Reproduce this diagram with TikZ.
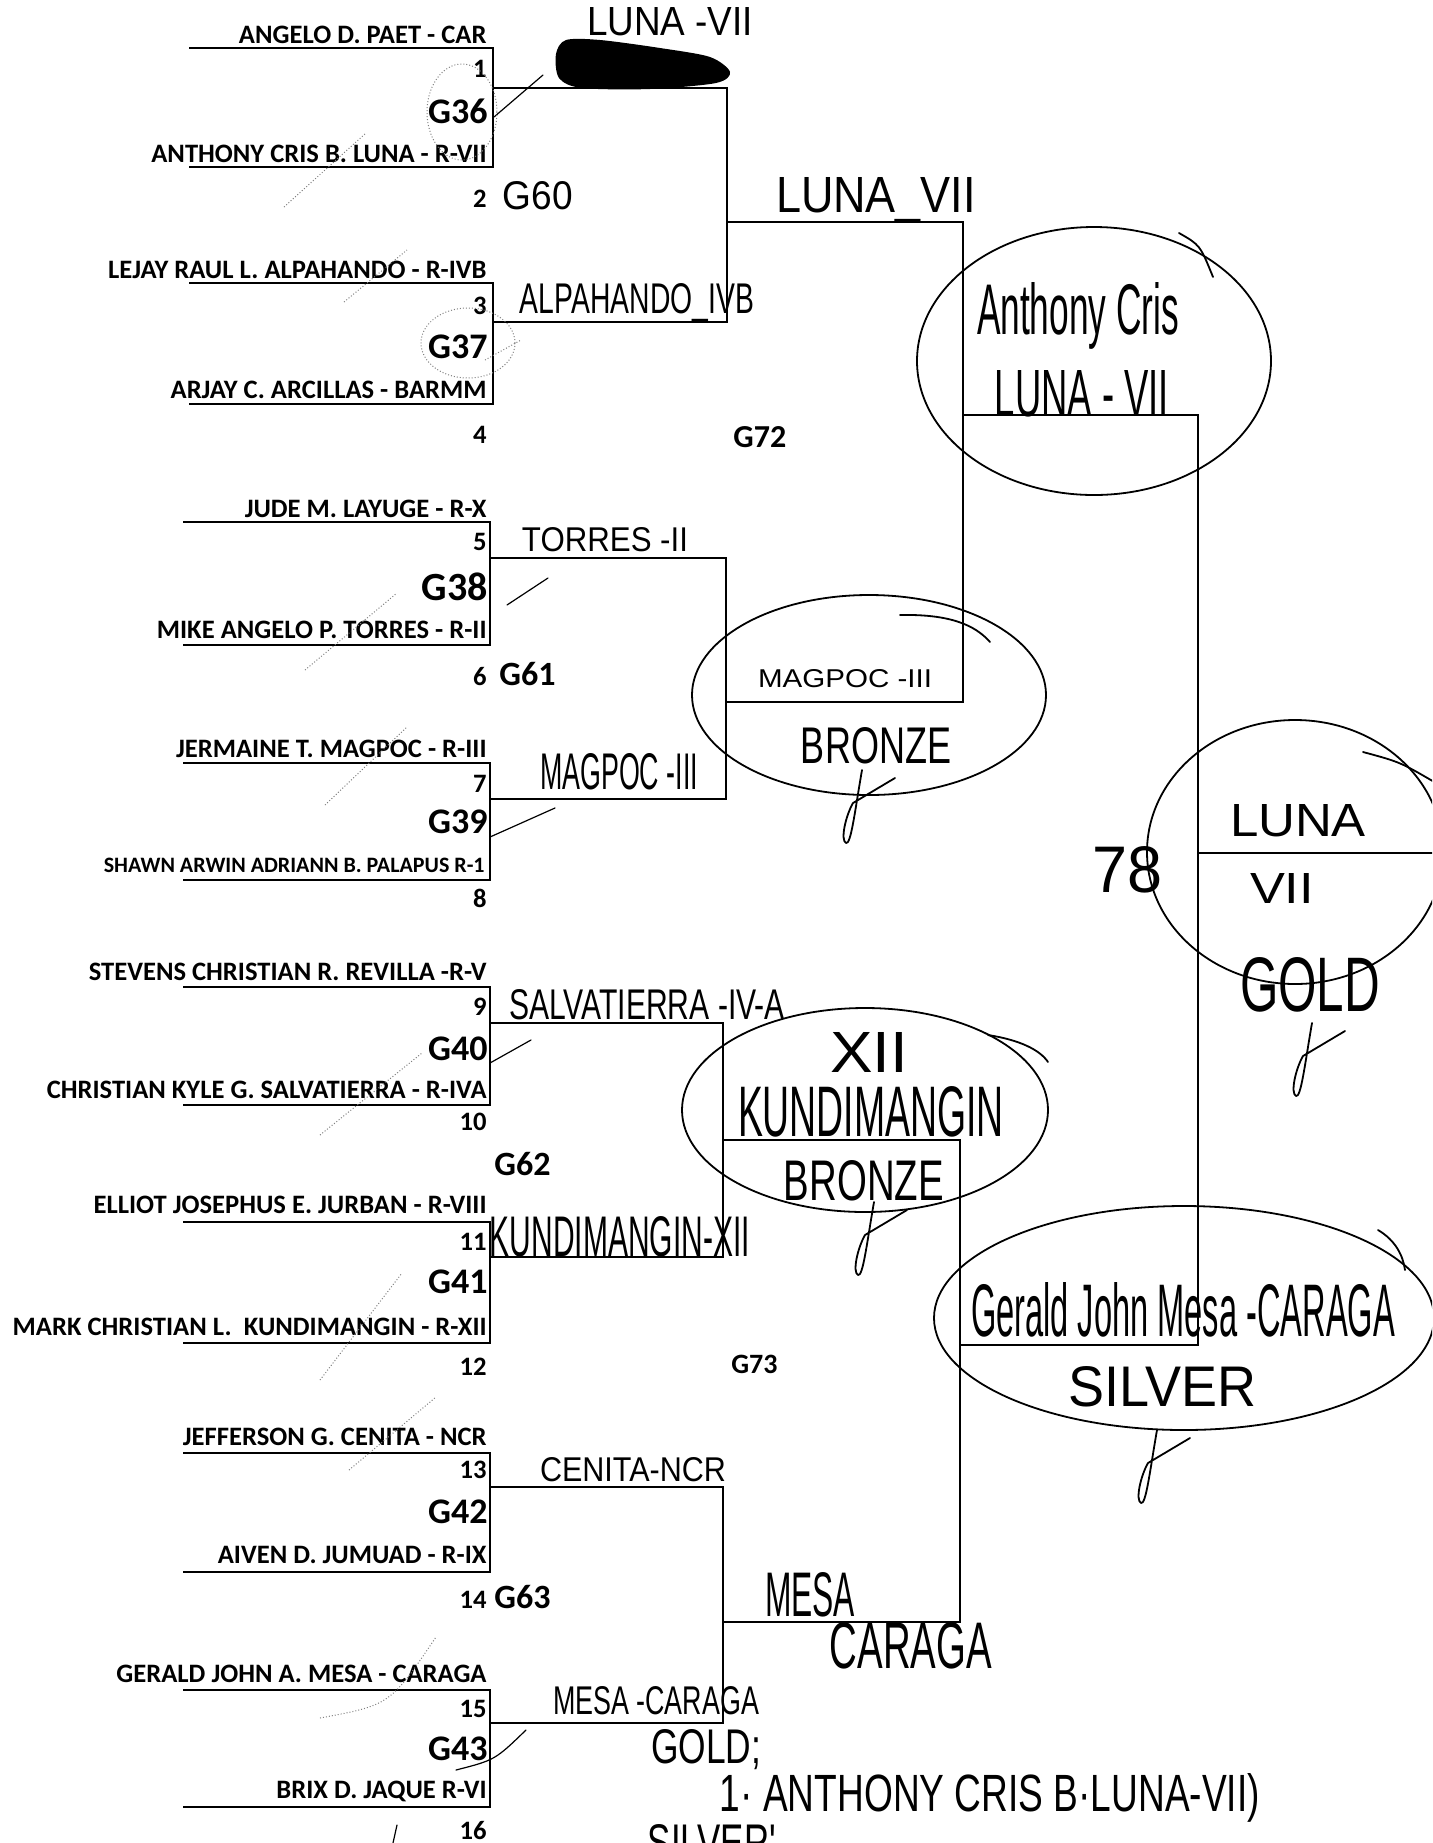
\documentclass[tikz,border=0pt]{standalone}
\usepackage{fontspec}
\setmainfont{Carlito}
\newfontfamily\handfont{Liberation Sans}
\newcommand{\hw}[3]{\resizebox{#1}{#2}{\handfont #3}}

\tikzset{
  bracket/.style={line width=1.2pt, line cap=rect},
  player/.style={anchor=base east, inner sep=0pt, font=\fontsize{13.3}{15}\selectfont\bfseries},
  seed/.style={anchor=base east, inner sep=0pt, font=\fontsize{13.3}{15}\selectfont\bfseries},
  game/.style={anchor=base east, inner sep=0pt, font=\fontsize{18}{20}\selectfont\bfseries},
  round/.style={anchor=base west, inner sep=0pt, font=\fontsize{17}{19}\selectfont\bfseries},
  note/.style={inner sep=0pt},
  pen/.style={line width=0.9pt, line cap=round, line join=round},
  faint/.style={line width=0.5pt, gray, densely dotted},
  sig/.pic={\draw[pen] (-3,-35) .. controls (-10,5) and (-14,40) .. (-19,38)
      .. controls (-25,35) and (-19,10) .. (-12,-2) -- (30,-27);}
}

\begin{document}
\begin{tikzpicture}[x=0.5pt, y=-0.5pt]
  \useasboundingbox (0,0) rectangle (1432,1843);
  \clip (0,0) rectangle (1432,1843);

  % slot ends (first round)
  \foreach \n/\y in {1/48, 2/167, 3/283, 4/404}
    \coordinate (p\n) at (190,\y);
  \foreach \n/\y in {5/522, 6/645, 7/763, 8/880, 9/987, 10/1105, 11/1222, 12/1343,
                     13/1453, 14/1572, 15/1690, 16/1807}
    \coordinate (p\n) at (184,\y);

  % game points (where the winner line leaves)
  \coordinate (g36) at (493,88);   \coordinate (g37) at (493,322);
  \coordinate (g38) at (490,558);  \coordinate (g39) at (490,799);
  \coordinate (g40) at (490,1023); \coordinate (g41) at (490,1257);
  \coordinate (g42) at (490,1487); \coordinate (g43) at (490,1723);
  \coordinate (g60) at (727,222);  \coordinate (g61) at (726,702);
  \coordinate (g62) at (723,1140); \coordinate (g63) at (723,1622);
  \coordinate (g72) at (963,415);  \coordinate (g73) at (960,1345);
  \coordinate (g78) at (1198,853); \coordinate (champ) at (1440,853);

  % first round
  \foreach \a/\b/\g in {1/2/36, 3/4/37, 5/6/38, 7/8/39, 9/10/40, 11/12/41, 13/14/42, 15/16/43}
    \draw[bracket] (p\a) -| (g\g) |- (p\b);

  % second round
  \draw[bracket] (g36) -| (g60) |- (g37);
  \draw[bracket] (g38) -| (g61) |- (g39);
  \draw[bracket] (g40) -| (g62) |- (g41);
  \draw[bracket] (g42) -| (g63) |- (g43);

  % semis and final
  \draw[bracket] (g60) -| (g72) |- (g61);
  \draw[bracket] (g62) -| (g73) |- (g63);
  \draw[bracket] (g72) -| (g78) |- (g73);
  \draw[bracket] (g78) -- (champ);

  % players
  \node[player] (n1) at (487,43) {ANGELO D. PAET - CAR};
  \node[player] (n2) at (487,162) {ANTHONY CRIS B. LUNA - R-VII};
  \node[player] (n3) at (487,278) {LEJAY RAUL L. ALPAHANDO - R-IVB};
  \node[player] (n4) at (487,398) {ARJAY C. ARCILLAS - BARMM};
  \node[player] (n5) at (487,517) {JUDE M. LAYUGE - R-X};
  \node[player] (n6) at (487,638) {MIKE ANGELO P. TORRES - R-II};
  \node[player] (n7) at (487,757) {JERMAINE T. MAGPOC - R-III};
  \node[player, font=\fontsize{11}{13}\selectfont\bfseries] (n8) at (485,872) {SHAWN ARWIN ADRIANN B. PALAPUS R-1};
  \node[player] (n9) at (487,980) {STEVENS CHRISTIAN R. REVILLA -R-V};
  \node[player] (n10) at (487,1098) {CHRISTIAN KYLE G. SALVATIERRA - R-IVA};
  \node[player] (n11) at (487,1213) {ELLIOT JOSEPHUS E. JURBAN - R-VIII};
  \node[player] (n12) at (487,1335) {MARK CHRISTIAN L.\ \ KUNDIMANGIN - R-XII};
  \node[player] (n13) at (487,1445) {JEFFERSON G. CENITA - NCR};
  \node[player] (n14) at (487,1563) {AIVEN D. JUMUAD - R-IX};
  \node[player] (n15) at (487,1682) {GERALD JOHN A. MESA - CARAGA};
  \node[player] (n16) at (487,1798) {BRIX D. JAQUE R-VI};

  % seeds
  \foreach \n/\y in {1/77, 2/207, 3/314, 4/443, 5/550, 6/685, 7/792, 8/907,
                     9/1015, 10/1130, 11/1250, 12/1375, 13/1478, 14/1608, 15/1717, 16/1839}
    \node[seed] (s\n) at (487,\y) {\n};

  % game labels
  \foreach \g/\y in {36/123, 37/358, 39/833, 40/1060, 41/1293, 42/1523, 43/1760}
    \node[game] (l\g) at (488,\y) {G\g};
  \node[game, font=\fontsize{20}{22}\selectfont\bfseries] (l38) at (488,600) {G38};
  \node[round] (l61) at (499,685) {G61};
  \node[round] (l62) at (494,1175) {G62};
  \node[round] (l63) at (494,1608) {G63};
  \node[round, font=\fontsize{16}{18}\selectfont\bfseries] (l72) at (733,447) {G72};
  \node[round, font=\fontsize{14}{16}\selectfont\bfseries] (l73) at (731,1373) {G73};

  % handwriting on the sheet
  \fill plot[smooth cycle] coordinates {(556,54) (566,40) (600,40) (660,48) (710,57) (730,72)
                                        (716,83) (650,89) (582,88) (559,78)};
  \node[note] (h1) at (670,22) {\hw{83pt}{14pt}{LUNA -VII}};
  \node[note] (h2) at (538,196) {\hw{35pt}{14pt}{G60}};
  \node[note] (h3) at (876,200) {\hw{100pt}{17.5pt}{LUNA\_VII}};
  \node[note] (h4) at (637,303) {\hw{117pt}{15pt}{ALPAHANDO\_IVB}};
  \node[note] (h5) at (1078,316) {\hw{101pt}{26pt}{Anthony Cris}};
  \node[note] (h6) at (1082,394) {\hw{87pt}{23pt}{LUNA - VII}};
  \node[note] (h7) at (605,540) {\hw{83pt}{12pt}{TORRES -II}};
  \node[note] (h8) at (619,772) {\hw{79pt}{18pt}{MAGPOC -III}};
  \node[note] (h9) at (845,679) {\hw{87pt}{9pt}{MAGPOC -III}};
  \node[note] (h10) at (876,746) {\hw{75pt}{18pt}{BRONZE}};
  \node[note] (h11) at (647,1005) {\hw{138pt}{15pt}{SALVATIERRA -IV-A}};
  \node[note] (h12) at (620,1237) {\hw{130pt}{20pt}{KUNDIMANGIN-XII}};
  \node[note] (h13) at (869,1052) {\hw{39pt}{20pt}{XII}};
  \node[note] (h14) at (871,1112) {\hw{133pt}{25pt}{KUNDIMANGIN}};
  \node[note] (h15) at (864,1181) {\hw{80pt}{20pt}{BRONZE}};
  \node[note] (h16) at (1183,1310) {\hw{212pt}{27pt}{Gerald John Mesa -CARAGA}};
  \node[note] (h17) at (1162,1387) {\hw{94pt}{20pt}{SILVER}};
  \node[note] (h18) at (1298,821) {\hw{68pt}{16pt}{LUNA}};
  \node[note] (h19) at (1282,888) {\hw{32pt}{15pt}{VII}};
  \node[note] (h20) at (1127,870) {\hw{35pt}{23pt}{78}};
  \node[note] (h21) at (1310,985) {\hw{70pt}{27pt}{GOLD}};
  \node[note] (h22) at (633,1470) {\hw{93pt}{12pt}{CENITA-NCR}};
  \node[note] (h23) at (810,1595) {\hw{45pt}{22pt}{MESA}};
  \node[note] (h24) at (911,1646) {\hw{81pt}{23pt}{CARAGA}};
  \node[note] (h25) at (656,1701) {\hw{103pt}{14pt}{MESA -CARAGA}};
  \node[note] (h26) at (706,1750) {\hw{55pt}{17pt}{GOLD;}};
  \node[note] (h27) at (990,1798) {\hw{270pt}{19pt}{1· ANTHONY  CRIS  B·LUNA-VII)}};
  \node[note, anchor=north] (h28) at (712,1824) {\hw{64pt}{18pt}{SILVER'}};

  % circles round the medallists
  \draw[pen] (1094,361) ellipse [x radius=177, y radius=134];
  \draw[pen] (1179,233) .. controls (1200,245) .. (1213,277);
  \draw[pen] (869,695) ellipse [x radius=177, y radius=100];
  \draw[pen] (900,615) .. controls (950,614) and (975,625) .. (990,642);
  \draw[pen] (1295,852) ellipse [x radius=148, y radius=132];
  \draw[pen] (1363,752) .. controls (1400,762) .. (1436,783);
  \draw[pen] (865,1110) ellipse [x radius=183, y radius=102];
  \draw[pen] (988,1035) .. controls (1020,1040) and (1040,1050) .. (1048,1062);
  \draw[pen] (1184,1318) ellipse [x radius=250, y radius=112];
  \draw[pen] (1378,1230) .. controls (1395,1240) and (1403,1255) .. (1405,1270);

  % initials
  \pic at (865,805) {sig};
  \pic at (877,1237) {sig};
  \pic at (1315,1058) {sig};
  \pic at (1160,1465) {sig};

  % tick marks
  \draw[pen, line width=0.6pt] (494,117) -- (543,75);
  \draw[pen, line width=0.6pt] (507,605) -- (548,578);
  \draw[pen, line width=0.6pt] (490,837) -- (555,808);
  \draw[pen, line width=0.6pt] (490,1063) -- (531,1040);
  \draw[pen, line width=0.6pt] (456,1770) .. controls (495,1760) .. (526,1730);
  \draw[pen, line width=0.6pt] (397,1825) -- (393,1843);
  \draw[faint] (284,207) -- (366,133);
  \draw[faint] (344,302) -- (407,250);
  \draw[faint] (485,360) -- (521,340);
  \draw[faint] (305,670) -- (397,593);
  \draw[faint] (325,805) -- (407,727);
  \draw[faint] (320,1135) -- (422,1053);
  \draw[faint] (320,1380) -- (402,1273);
  \draw[faint] (349,1470) -- (436,1397);
  \draw[faint] (320,1718) .. controls (390,1705) .. (436,1637);
  \draw[faint] (462,112) ellipse [x radius=35, y radius=48];
  \draw[faint] (468,343) ellipse [x radius=47, y radius=35];
\end{tikzpicture}
\end{document}
